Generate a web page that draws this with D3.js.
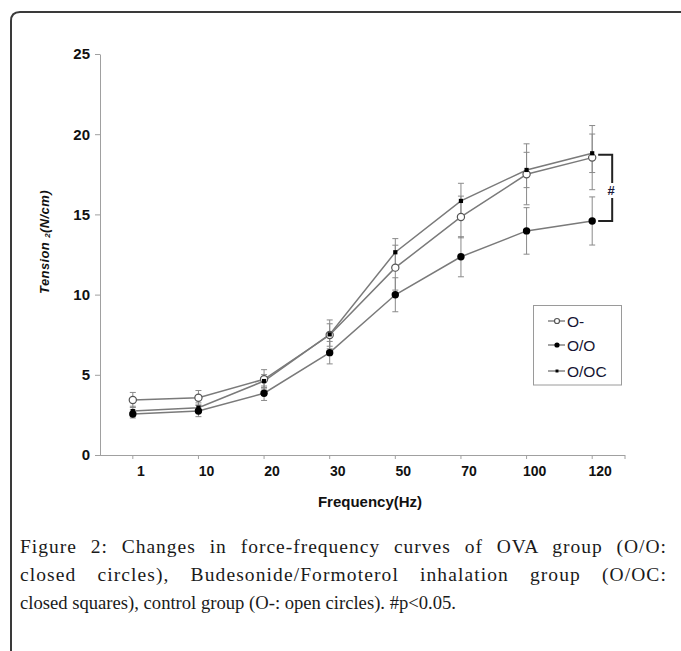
<!DOCTYPE html>
<html>
<head>
<meta charset="utf-8">
<script src="https://cdn.jsdelivr.net/npm/d3@7"></script>
<style>
  html, body { margin: 0; padding: 0; background: #fff; }
  svg { display: block; }
</style>
</head>
<body>
<svg id="chart" width="681" height="651"></svg>
<script>
// ---- data ----
const frequencies = ["1", "10", "20", "30", "50", "70", "100", "120"];
const yTicks = [0, 5, 10, 15, 20, 25];
const controlMean = [3.43, 3.57, 4.72, 7.48, 11.68, 14.84, 17.50, 18.54];   // O-
const controlSD   = [0.47, 0.45, 0.60, 0.70, 1.40, 1.30, 1.90, 2.00];
const ovaMean     = [2.56, 2.74, 3.85, 6.38, 9.99, 12.36, 13.97, 14.59];    // O/O
const ovaSD       = [0.25, 0.35, 0.45, 0.70, 1.06, 1.25, 1.45, 1.50];
const budMean     = [2.74, 2.95, 4.61, 7.52, 12.64, 15.84, 17.77, 18.81];   // O/OC
const budSD       = [0.30, 0.30, 0.40, 0.90, 0.85, 1.10, 1.10, 1.20];
const seriesNames = ["O-", "O/O", "O/OC"];
const captionLines = [
  "Figure 2: Changes in force-frequency curves of OVA group (O/O:",
  "closed circles), Budesonide/Formoterol inhalation group (O/OC:",
  "closed squares), control group (O-: open circles). #p<0.05."
];

const series = [
  { name: seriesNames[0], mean: controlMean, sd: controlSD, marker: "open" },
  { name: seriesNames[1], mean: ovaMean, sd: ovaSD, marker: "dot" },
  { name: seriesNames[2], mean: budMean, sd: budSD, marker: "square" }
];

const svg = d3.select("#chart");
const sans = "'Liberation Sans', Arial, sans-serif";

// frame
svg.append("path")
  .attr("d", "M11,651 V21 Q11,12 20,12 H681")
  .attr("fill", "none").attr("stroke", "#3a3a3a").attr("stroke-width", 2);

const x = d3.scaleBand().domain(frequencies).range([100, 625]);
const y = d3.scaleLinear().domain([0, 25]).range([455, 54]);
const cx = d => x(d) + x.bandwidth() / 2;

// axes
const gx = svg.append("g").attr("transform", "translate(0,455)")
  .call(d3.axisBottom(x).tickSize(4).tickSizeOuter(0).tickPadding(7));
gx.select(".domain").attr("stroke", "#a0a0a0").attr("d", "M100,0.5H625");
gx.selectAll(".tick line").attr("stroke", "#a0a0a0");
gx.append("line").attr("x1", 625).attr("x2", 625).attr("y1", 0).attr("y2", 4).attr("stroke", "#a0a0a0");
gx.selectAll(".tick text")
  .attr("font-family", sans).attr("font-weight", "bold").attr("font-size", 14)
  .attr("fill", "#111").attr("dx", 8);

const gy = svg.append("g").attr("transform", "translate(100,0)")
  .call(d3.axisLeft(y).tickValues(yTicks).tickSize(5).tickSizeOuter(0).tickPadding(5));
gy.select(".domain").attr("stroke", "#a0a0a0");
gy.selectAll(".tick line").attr("stroke", "#a0a0a0");
gy.selectAll(".tick text")
  .attr("font-family", sans).attr("font-weight", "bold").attr("font-size", 15)
  .attr("fill", "#111");

// axis titles
svg.append("text")
  .attr("x", 370).attr("y", 507).attr("text-anchor", "middle")
  .attr("font-family", sans).attr("font-weight", "bold").attr("font-size", 15)
  .attr("fill", "#111").text("Frequency(Hz)");

const yl = svg.append("text")
  .attr("transform", "translate(49,242) rotate(-90)")
  .attr("text-anchor", "middle")
  .attr("font-family", sans).attr("font-weight", "bold").attr("font-style", "italic")
  .attr("font-size", 13).attr("letter-spacing", 0.4).attr("fill", "#111");
yl.append("tspan").text("Tension  ");
yl.append("tspan").attr("font-size", 8).attr("dy", 1).text("2");
yl.append("tspan").attr("dy", -1).text("(N/cm)");

// error bars
const capW = 3;
series.forEach(s => {
  const g = svg.append("g");
  frequencies.forEach((f, i) => {
    const hi = y(s.mean[i] + s.sd[i]), lo = y(s.mean[i] - s.sd[i]), X = cx(f);
    g.append("line").attr("x1", X).attr("x2", X).attr("y1", hi).attr("y2", lo)
      .attr("stroke", "#8a8a8a").attr("stroke-width", 1);
    [hi, lo].forEach(yy => g.append("line")
      .attr("x1", X - capW).attr("x2", X + capW).attr("y1", yy).attr("y2", yy)
      .attr("stroke", "#8a8a8a").attr("stroke-width", 1));
  });
});

// lines
const line = d3.line().x((d, i) => cx(frequencies[i])).y(d => y(d));
series.forEach(s => {
  svg.append("path").datum(s.mean).attr("d", line)
    .attr("fill", "none").attr("stroke", "#7a7a7a").attr("stroke-width", 1.5);
});

function drawMarker(g, type, X, Y, scale) {
  if (type === "open") {
    g.append("circle").attr("cx", X).attr("cy", Y).attr("r", 3.6 * scale)
      .attr("fill", "#fff").attr("stroke", "#555").attr("stroke-width", 1.2);
  } else if (type === "dot") {
    g.append("circle").attr("cx", X).attr("cy", Y).attr("r", 3.7 * scale).attr("fill", "#000");
  } else {
    const s = 4.2 * scale;
    g.append("rect").attr("x", X - s / 2).attr("y", Y - s / 2).attr("width", s).attr("height", s).attr("fill", "#000");
  }
}

// markers
series.forEach(s => {
  const g = svg.append("g");
  s.mean.forEach((v, i) => drawMarker(g, s.marker, cx(frequencies[i]), y(v), 1));
});

// significance bracket
const bx = cx(frequencies[7]);
svg.append("path")
  .attr("d", `M${bx + 6},${y(budMean[7]) + 1.5} H${bx + 20} V183 M${bx + 20},198 V${y(ovaMean[7])} H${bx + 6}`)
  .attr("fill", "none").attr("stroke", "#222").attr("stroke-width", 2);
svg.append("text").attr("x", bx + 19).attr("y", 195).attr("text-anchor", "middle")
  .attr("font-family", sans).attr("font-weight", "bold").attr("font-size", 13).attr("fill", "#1a1a3a").text("#");

// legend
svg.append("rect").attr("x", 533.5).attr("y", 305.5).attr("width", 88).attr("height", 79.5)
  .attr("fill", "#fff").attr("stroke", "#9a9a9a").attr("stroke-width", 1);
const legY = [321, 345, 371];
series.forEach((s, i) => {
  const g = svg.append("g");
  g.append("line").attr("x1", 548).attr("x2", 565).attr("y1", legY[i]).attr("y2", legY[i])
    .attr("stroke", "#666").attr("stroke-width", 1.2);
  drawMarker(g, s.marker, 557, legY[i], 0.7);
  g.append("text").attr("x", 567).attr("y", legY[i] + 5.5)
    .attr("font-family", sans).attr("font-size", 15.5).attr("fill", "#141432").text(s.name);
});

// caption (lines 1-2 justified: letter-spacing plus widened word spaces)
const capBase = [553, 581, 609];
const capTarget = [647, 647, null];
const capLetter = [1.0, 1.1, 0];
captionLines.forEach((t, i) => {
  const el = svg.append("text").attr("x", 20).attr("y", capBase[i])
    .attr("font-family", "'Liberation Serif', 'Times New Roman', serif")
    .attr("font-size", 19.5).attr("fill", "#1a1a1a")
    .attr("letter-spacing", capLetter[i])
    .text(t);
  if (capTarget[i]) {
    const natural = el.node().getComputedTextLength();
    const spaces = (t.match(/ /g) || []).length;
    el.attr("word-spacing", Math.max(0, (capTarget[i] - natural) / spaces));
  } else {
    el.attr("textLength", 436).attr("lengthAdjust", "spacingAndGlyphs");
  }
});
</script>
</body>
</html>
